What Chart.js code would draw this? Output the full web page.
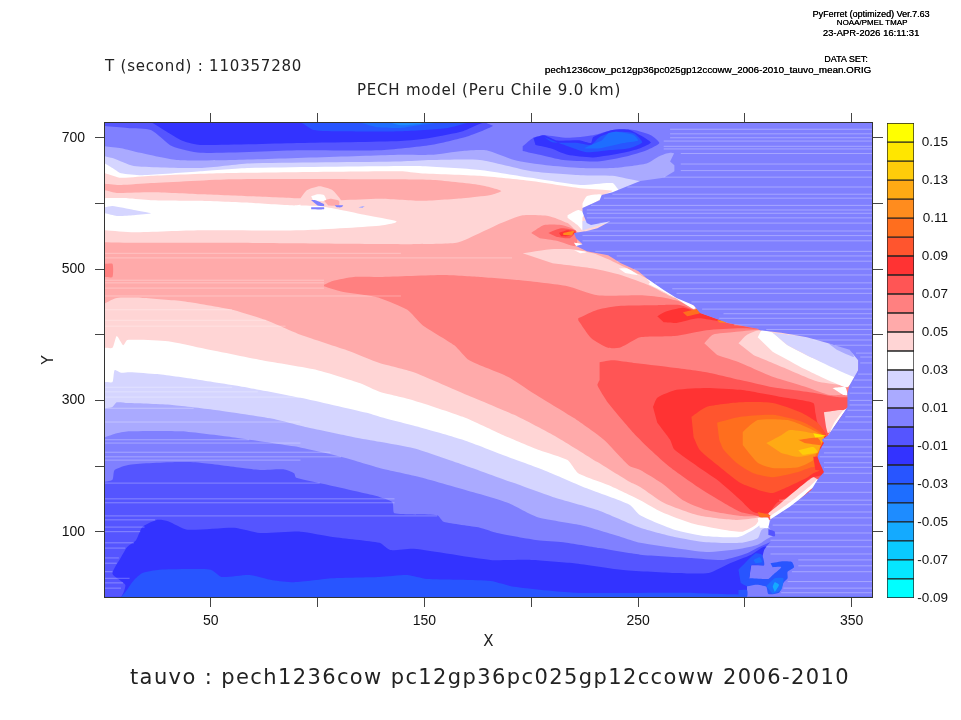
<!DOCTYPE html>
<html>
<head>
<meta charset="utf-8">
<title>tauvo</title>
<script src="https://cdn.jsdelivr.net/npm/chart.js@4"></script>
<style>
    html, body { margin: 0; padding: 0; background: #fff; overflow: hidden; }
    #plot { position: relative; width: 961px; height: 720px; }
    canvas { position: absolute; }
    .txt { position: absolute; white-space: pre; color: #222; font-family: "DejaVu Sans", sans-serif; line-height: 1; }
    .head { font-family: "Liberation Sans", sans-serif; font-size: 9px; color: #000; transform: translateX(-50%); text-shadow: 0.2px 0 0 #000; }
</style>
</head>
<body>
<div id="plot">
    <canvas id="field" width="961" height="720" style="left:0;top:0"></canvas>
    <canvas id="bar" width="81" height="509" style="left:880px;top:106px"></canvas>
    <div class="txt head" style="left:871px;top:10px">PyFerret (optimized) Ver.7.63</div>
    <div class="txt head" style="left:872px;top:19px;font-size:8px">NOAA/PMEL TMAP</div>
    <div class="txt head" style="left:871px;top:28px;font-size:9.5px">23-APR-2026 16:11:31</div>
    <div class="txt head" style="left:846px;top:55px">DATA SET:</div>
    <div class="txt head" style="left:708px;top:65px;font-size:9.8px">pech1236cow_pc12gp36pc025gp12ccoww_2006-2010_tauvo_mean.ORIG</div>
    <div class="txt" style="left:105px;top:59px;font-size:15px;letter-spacing:0.8px">T (second) : 110357280</div>
    <div class="txt" style="left:357px;top:83px;font-size:15px;letter-spacing:0.78px">PECH model (Peru Chile 9.0 km)</div>
    <div class="txt" style="left:130px;top:667px;font-size:21px;letter-spacing:1.39px">tauvo : pech1236cow pc12gp36pc025gp12ccoww 2006-2010</div>
</div>
<script>
// Contour levels and colour key (lower bound of each box)
const levels = [-0.09, -0.08, -0.07, -0.06, -0.05, -0.04, -0.03, -0.02, -0.01, 0.00, 0.01, 0.02, 0.03,
    0.04, 0.05, 0.06, 0.07, 0.08, 0.09, 0.10, 0.11, 0.12, 0.13, 0.14, 0.15];
const levelColors = ['#00ffff', '#05e6ff', '#0acaff', '#14aaff', '#1e8cff', '#1e6eff', '#2855ff', '#3333ff', '#5555ff',
    '#8080ff', '#aaaaff', '#d5d5ff', '#ffffff', '#ffd5d5', '#ffaaaa', '#ff8080', '#ff5555', '#ff3333',
    '#ff552e', '#ff6e1e', '#ff8c1e', '#ffaa14', '#ffcc0a', '#ffe600', '#ffff00'];
const barTicks = [-0.09, -0.07, -0.05, -0.03, -0.01, 0.01, 0.03, 0.05, 0.07, 0.09, 0.11, 0.13, 0.15];

const xTicks = [50, 100, 150, 200, 250, 300, 350];
const xTickLabels = ['50', '', '150', '', '250', '', '350'];
const yTicks = [100, 200, 300, 400, 500, 600, 700];
const yTickLabels = ['100', '', '300', '', '500', '', '700'];
const xMin = 0.5, xMax = 359.5, yMin = 0.5, yMax = 722.5;

// Contour edges, [X, Y], west to east
const southM02 = [[0.5,1],[8,1],[14,26],[18,37],[26,42],[50,42],[55,31],[68,34],[79,26],[89,23],[107,29],[129,31],[142,34],[151,28],[181,25],[192,16],[220,7],[270,7],[300,4]];
const northM02 = [[0.5,723],[92,723],[98,712],[111,710],[139,710],[161,715],[171,723]];
const southM01 = [[0.5,1],[8,1],[10,19],[4,36],[8,61],[11,77],[15,87],[18,107],[25,118],[30,116],[39,103],[61,106],[73,98],[92,100],[107,92],[129,83],[134,72],[145,74],[181,57],[200,57],[220,52],[242,42],[267,37],[283,37],[293,52],[303,65],[309,77],[321,77]];
const northM01 = [[0.5,723],[22,723],[28,712],[37,695],[45,689],[92,692],[139,695],[153,700],[168,710],[178,723]];
const southZero = [[0.5,176],[4,179],[5,194],[12,202],[34,206],[45,205],[65,197],[73,194],[84,195],[89,189],[90,182],[105,171],[120,160],[129,153],[135,145],[136,128],[156,125],[159,115],[176,106],[184,98],[203,87],[215,84],[232,75],[251,65],[275,60],[290,57],[301,67],[307,77],[321,95]];
const northZero = [[0.5,718],[11,715],[22,712],[32,687],[45,677],[92,681],[129,681],[153,689],[170,702],[182,718],[179,723]];
const southP01 = [[0.5,244],[6,250],[12,253],[36,253],[60,244],[89,230],[111,214],[129,197],[148,183],[173,160],[189,144],[203,122],[223,110],[242,92],[251,83],[267,75],[282,69],[298,74],[306,80],[311,90],[321,103]];
const northP01 = [[0.5,687],[8,684],[17,677],[34,666],[60,666],[139,674],[153,674],[168,680],[179,681],[192,666],[207,658],[223,654],[238,654],[254,661],[260,672],[265,677],[270,674]];
const southP02 = [[0.5,288],[4,290],[6,297],[11,296],[32,293],[53,285],[79,272],[95,259],[117,244],[129,237],[145,227],[168,202],[192,174],[210,153],[231,133],[251,106],[267,92],[282,84],[298,83],[306,90],[308,103],[321,118]];
const northP02 = [[0.5,672],[4,669],[14,657],[45,654],[68,661],[139,664],[153,666],[176,666],[200,649],[223,643],[238,642],[251,634],[270,634]];
const southP03 = [[0.5,328],[4,328],[5,346],[8,342],[12,343],[25,340],[45,331],[68,319],[92,304],[123,281],[129,275],[149,258],[168,240],[189,214],[208,191],[226,166],[246,141],[251,125],[267,103],[282,93],[297,92],[304,103],[307,110],[310,121],[321,133]];
const northP03 = [[0.5,661],[4,654],[8,646],[18,643],[45,649],[68,654],[139,657],[148,657],[176,651],[200,639],[223,628],[238,631],[241,620],[244,611]];
const southP04 = [[0.5,380],[4,380],[6,398],[9,384],[11,392],[30,390],[45,380],[74,361],[100,346],[120,326],[129,313],[145,300],[168,275],[187,247],[204,224],[217,209],[222,189],[236,171],[251,148],[261,130],[275,113],[290,103],[299,100],[305,110],[307,118],[321,133]];
const northP04 = [[0.5,646],[8,639],[22,642],[54,646],[139,649],[148,646],[176,642],[200,634],[223,623],[236,620],[238,619],[234,613],[232,605]];
const southP05 = [[0.5,448],[6,456],[18,456],[37,451],[60,438],[76,422],[92,400],[115,375],[129,357],[145,343],[168,311],[192,278],[212,244],[231,206],[246,176],[251,168],[262,144],[278,125],[295,118],[305,121],[310,125],[321,133]];
const northP05 = [[0.5,541],[14,540],[60,540],[139,538],[165,540],[176,555],[186,570],[196,582],[208,581],[217,570],[221,558],[228,544]];
const southP06 = [[103,474],[111,466],[123,460],[129,456],[142,438],[149,415],[164,384],[171,361],[189,336],[201,311],[220,273],[234,240],[246,200],[251,194],[261,174],[271,148],[282,133],[298,124],[309,124],[321,124]];
const northP06 = [[103,476],[107,482],[117,488],[129,488],[159,491],[176,488],[195,483],[217,474],[231,460],[251,460],[261,457],[270,450],[278,435],[292,418]];

// Closed contour patches, [X, Y]
const whiteLens = [[0.5,608],[11,608],[22,605],[45,604],[68,601],[89,597],[95,599],[111,590],[123,582],[137,573],[136,570],[129,566],[92,559],[45,559],[14,556],[0.5,559]];
const lensIsle = [[0.5,594],[4,596],[14,590],[22,585],[14,582],[6,581],[0.5,585]];
const northLens = [[0.5,630],[8,628],[22,631],[60,637],[129,637],[153,636],[176,628],[186,619],[181,613],[168,608],[148,604],[129,607],[111,605],[90,608],[68,611],[45,614],[22,617],[6,616],[0.5,620]];
const ringPale = [[92,608],[95,620],[101,626],[107,620],[111,605],[112,597],[92,597]];
const ringWhite = [[97,611],[100,614],[103,613],[104,604],[98,604]];
const ringPink = [[103,604],[106,607],[110,604],[110,597],[105,597]];
const ringBlueA = [[97,605],[99,605],[103,599],[103,596],[100,597]];
const ringBlueB = [[108,597],[112,597],[111,594],[109,594]];
const ringBlueC = [[97,594],[103,594],[103,591],[97,591]];
const ringBlueD = [[119,594],[122,596],[121,593]];
const westEdge = [[0.5,508],[4,508],[4,488],[0.5,488]];
const capePale = [[196,524],[208,530],[220,530],[229,524],[238,512],[254,486],[264,466],[267,456],[256,474],[242,491],[229,501],[210,509]];
const capeA = [[200,555],[206,567],[214,567],[221,558],[221,535],[212,543],[204,547]];
const capeB = [[208,555],[214,562],[221,558],[218,547],[212,549]];
const capeC = [[213,555],[217,559],[221,556],[217,550],[214,550]];
const capeD = [[215,555],[220,558],[219,552],[215,552]];
const bayPink = [[281,387],[285,400],[295,404],[307,407],[321,400],[350,377],[346,311],[340,308],[329,320],[313,336],[298,357],[287,369]];
const bayPale = [[297,387],[301,400],[307,407],[352,392],[351,326],[335,328],[321,346],[304,369]];
const bayWhite = [[306,396],[308,407],[313,403],[320,384],[332,364],[351,336],[348,320],[341,328],[326,351],[313,374]];
const bayLilac = [[313,403],[329,396],[339,387],[349,377],[353,361],[353,346],[351,336],[332,364],[320,384]];
const bayBlue = [[339,387],[349,378],[351,366],[343,377]];
const northCore07 = [[222,425],[231,438],[242,444],[259,445],[270,445],[278,435],[292,418],[306,409],[298,410],[282,407],[267,398],[251,396],[242,381],[236,380],[228,395],[222,422]];
const northCore08 = [[259,428],[262,434],[271,441],[279,433],[291,419],[278,425],[268,418],[262,419]];
const northCore10 = [[271,434],[278,439],[279,433],[273,428]];
const northCore11 = [[287,422],[290,421],[291,418],[288,419]];
const core07 = [[232,358],[238,361],[248,357],[264,351],[282,343],[298,331],[313,320],[329,313],[343,305],[354,300],[354,118],[311,118],[305,125],[298,130],[290,144],[278,168],[265,198],[256,224],[248,250],[236,296],[231,323],[232,331]];
const core08 = [[257,290],[259,304],[268,316],[282,319],[298,316],[317,305],[332,296],[333,281],[334,266],[338,247],[340,194],[336,186],[331,182],[327,171],[320,153],[315,144],[311,128],[304,130],[298,148],[287,179],[278,199],[267,225],[265,240],[259,266]];
const core09 = [[275,275],[282,290],[298,297],[313,296],[326,282],[334,266],[338,247],[334,240],[335,194],[332,189],[329,182],[320,168],[313,159],[306,164],[298,174],[290,194],[279,224],[276,244]];
const core10 = [[287,266],[298,275],[313,278],[327,267],[337,247],[335,232],[336,202],[331,198],[325,191],[313,183],[304,189],[296,205],[290,225],[288,240]];
const core11 = [[299,252],[306,270],[320,270],[329,259],[337,244],[334,224],[332,209],[325,198],[313,197],[306,205],[299,232]];
const core12 = [[310,235],[317,247],[321,255],[332,250],[337,244],[335,227],[334,220],[325,214],[317,220]];
const core13 = [[325,224],[332,229],[334,221],[327,217]];
const coreTip = [[332,250],[338,246],[333,243]];
const fingerA = [[325,240],[334,243],[336,232],[328,235]];
const fingerB = [[332,214],[335,214],[336,194],[333,194]];
const fringePale = [[311,128],[317,144],[327,171],[332,183],[334,179],[329,163],[320,138],[312,119]];
const fringeWhite = [[312,124],[320,142],[330,168],[334,180],[335,176],[330,162],[321,136],[312,118]];
const shelfPale = [[337,282],[346,285],[343,267],[339,250],[338,259]];
const shelfWhite = [[346,285],[348,288],[345,275],[339,246],[342,267]];
const shelfTop = [[341,319],[347,320],[348,308],[346,308]];
const tipOrange = [[306,130],[312,125],[311,122],[307,122]];
const tipWhite = [[306,121],[311,121],[311,106],[307,106]];
const coastA = [[224,600],[226,611],[232,614],[234,611],[229,600],[224,593]];
const coastB = [[217,582],[222,590],[225,585],[224,578],[224,559],[222,566],[217,578]];
const coastC = [[224,573],[229,575],[237,573],[231,566],[224,559]];
const coastD = [[241,501],[245,501],[250,491],[244,494]];
const coastE = [[254,486],[260,474],[268,456],[262,466],[256,478]];
const coastF = [[220,540],[224,538],[224,534],[221,535]];
const coastG = [[220,529],[226,526],[223,524]];
const coastH = [[256,482],[267,463],[277,442],[276,439],[266,459],[255,477]];

// Land mask, drawn over the ocean contours
const landEdge = [[359.5,1],[359.5,723],[263,723],[265,681],[267,677],[265,664],[267,658],[267,649],[262,639],[251,634],[238,617],[233,613],[232,605],[224,593],[224,587],[225,578],[226,570],[228,567],[237,573],[231,562],[226,558],[220,555],[221,547],[224,538],[221,535],[226,527],[236,521],[242,509],[250,497],[254,486],[262,468],[268,456],[276,445],[279,433],[292,418],[306,409],[307,407],[317,403],[329,396],[339,387],[349,377],[353,361],[353,346],[349,323],[348,311],[348,290],[345,275],[339,247],[336,240],[337,235],[335,224],[334,214],[335,205],[337,191],[334,179],[331,163],[321,138],[312,119],[311,107],[313,100],[314,92],[310,77],[309,72],[308,60],[309,49],[303,49],[302,29],[298,23],[301,22],[301,1]];

// Patches that sit on the land colour
const topBlue01 = [[196,687],[201,700],[206,704],[217,700],[229,704],[238,712],[248,712],[256,704],[260,692],[254,681],[245,672],[231,664],[215,666],[204,674],[196,680]];
const topBlue02 = [[201,700],[206,704],[212,696],[223,696],[228,692],[229,701],[238,712],[246,712],[256,693],[251,684],[243,677],[229,670],[217,674],[209,684],[202,689]];
const topBlue03 = [[206,701],[210,693],[222,692],[228,689],[232,701],[239,709],[248,707],[252,693],[246,684],[236,681],[226,678],[218,686],[212,693]];
const topBlue04 = [[236,707],[240,709],[248,704],[250,696],[243,692],[232,684],[225,684],[228,689],[233,696]];
const topEdge04 = [[120,723],[128,716],[139,715],[145,718],[157,723]];
const topEdge05 = [[134,723],[139,719],[148,721],[150,723]];
const southPatch03 = [[312,52],[318,55],[322,54],[323,46],[320,39],[320,29],[318,22],[316,7],[311,5],[310,16],[305,19],[301,17],[298,23],[302,29],[311,28],[313,34],[317,46],[313,46]];
const southPatch04 = [[310,17],[314,29],[318,29],[317,11],[313,5]];
const southPatch06 = [[313,16],[314,23],[316,19],[314,8]];
const capePatch03 = [[297,42],[305,67],[308,65],[309,49],[303,49],[302,29],[298,23]];
const capePatch04 = [[304,57],[307,61],[308,54],[305,52]];
const floorPatch03 = [[297,11],[301,11],[301,1],[297,1]];
const dotPatch01 = [[311,104],[314,100],[314,93],[311,95]];

// Faint row artefacts in the field
const stripeY = [524,517,483,479,471,459,438,422,413,320,313,305,288,267,240,235,221,214,209,174,150,144,124,118,107,100,83,75,60,52,39,29,22,14,
    713,706,700,695,687,683,676,660,650,640,625,614,608,597,590,585,578,570,558,551,543,527,520,512,500,491,479,470,463,450,439,432,425,415,408,400,392,384,372,366,357,340,331,320,311,300,293,285,275,267,255,240,229,220,214,205,198,189,175,160,148,141,130,121,110,98,87,77,66,57,48,39,24,14,7];
const stripeFrom = [0.5,0.5,0.5,0.5,0.5,0.5,0.5,0.5,0.5,0.5,0.5,0.5,0.5,0.5,0.5,0.5,0.5,0.5,0.5,0.5,0.5,0.5,0.5,0.5,0.5,0.5,0.5,0.5,0.5,0.5,0.5,0.5,0.5,0.5,
    265,265,265,262,262,262,270,270,270,262,245,238,234,228,226,226,226,232,225,224,224,230,240,240,248,250,258,266,268,275,280,290,288,295,310,320,332,342,352,354,354,353,351,350,349,349,349,348,347,344,340,337,336,337,335,337,337,337,333,330,316,322,318,312,313,314,312,310,312,325,325,322,320,318,317];
const stripeTo = [139,191,103,103,103,139,60,76,85,60,72,92,42,92,68,92,106,111,92,101,136,136,156,24,19,17,14,10,7,6,4,12,9,8];

// Close a band between its south and north contour through the land mask
function band(south, north) {
    return [...south, [xMax, south[south.length - 1][1]], [xMax, north[north.length - 1][1]], ...north.slice().reverse()];
}

function colorOf(level) {
    return levelColors[Math.round((level + 0.09) * 100)];
}

// Painted in order, lowest level first
const layers = [
    [-0.03, [[xMin, yMin], [xMax, yMin], [xMax, 723], [xMin, 723]]],
    [-0.04, topEdge04], [-0.05, topEdge05],
    [-0.02, band(southM02, northM02)],
    [-0.01, band(southM01, northM01)],
    [0.00, band(southZero, northZero)],
    [0.01, band(southP01, northP01)],
    [0.02, band(southP02, northP02)],
    [0.03, band(southP03, northP03)],
    [0.04, band(southP04, northP04)],
    [0.03, whiteLens], [0.02, lensIsle], [0.05, northLens],
    [0.04, ringPale], [0.03, ringWhite], [0.05, ringPink],
    [0.00, ringBlueA], [0.00, ringBlueB], [0.00, ringBlueC], [0.01, ringBlueD],
    [0.05, band(southP05, northP05)],
    [0.06, westEdge], [0.04, capePale],
    [0.06, capeA], [0.07, capeB], [0.08, capeC], [0.11, capeD],
    [0.06, band(southP06, northP06)],
    [0.05, bayPink], [0.04, bayPale], [0.03, bayWhite], [0.02, bayLilac], [0.01, bayBlue],
    [0.07, northCore07], [0.08, northCore08], [0.10, northCore10], [0.11, northCore11],
    [0.07, core07], [0.08, core08], [0.09, core09], [0.10, core10], [0.11, core11], [0.12, core12],
    [0.13, core13], [0.14, coreTip], [0.10, fingerA], [0.08, fingerB],
    [0.04, fringePale], [0.03, fringeWhite], [0.04, shelfPale], [0.03, shelfWhite], [0.03, shelfTop],
    [0.10, tipOrange], [0.03, tipWhite],
    [0.03, coastA], [0.03, coastB], [0.02, coastC], [0.03, coastD], [0.03, coastE], [0.03, coastF], [0.03, coastG], [0.03, coastH],
    [0.00, landEdge],
    [-0.01, topBlue01], [-0.02, topBlue02], [-0.03, topBlue03], [-0.04, topBlue04],
    [-0.03, southPatch03], [-0.04, southPatch04], [-0.06, southPatch06],
    [-0.03, capePatch03], [-0.04, capePatch04], [-0.03, floorPatch03], [-0.01, dotPatch01]
];

function initField() {
    const datasets = layers.map(([level, pts], i) => ({
        data: pts.map(p => ({ x: p[0], y: p[1] })),
        showLine: true,
        fill: 'shape',
        backgroundColor: colorOf(level),
        borderWidth: 0,
        pointRadius: 0,
        tension: pts === landEdge || i === 0 ? 0 : 0.2,
        order: -i
    }));

    // Row artefacts, one broken line
    const stripes = [];
    stripeY.forEach((y, i) => {
        const to = i < stripeTo.length ? stripeTo[i] : xMax;
        stripes.push({ x: stripeFrom[i], y: y }, { x: to, y: y }, { x: NaN, y: NaN });
    });
    datasets.push({
        data: stripes,
        showLine: true,
        fill: false,
        borderColor: 'rgba(255, 255, 255, 0.3)',
        borderWidth: 1,
        pointRadius: 0,
        order: -layers.length
    });

    const tickGrid = { drawOnChartArea: false, drawTicks: true, tickLength: 10, tickColor: '#444', lineWidth: 1 };
    const frame = { display: true, color: '#333', width: 2 };
    const setTicks = values => scale => { scale.ticks = values.map(v => ({ value: v })); };

    new Chart(document.getElementById('field'), {
        type: 'scatter',
        data: { datasets },
        options: {
            responsive: false,
            animation: false,
            events: [],
            devicePixelRatio: 1,
            layout: { padding: { top: 113, right: 78, bottom: 0, left: 0 } },
            plugins: { legend: { display: false }, tooltip: { enabled: false } },
            scales: {
                x: {
                    type: 'linear', min: xMin, max: xMax, position: 'bottom',
                    grid: tickGrid, border: frame,
                    afterBuildTicks: setTicks(xTicks),
                    afterFit: s => { s.height = 123; },
                    title: { display: true, text: 'X', color: '#222', font: { family: 'DejaVu Sans', size: 15 }, padding: { top: 0, bottom: 69 } },
                    ticks: {
                        autoSkip: false, maxRotation: 0, padding: 6, color: '#111',
                        font: { family: 'Liberation Sans', size: 14 },
                        callback: (v, i) => xTickLabels[i]
                    }
                },
                x2: {
                    type: 'linear', axis: 'x', min: xMin, max: xMax, position: 'top',
                    grid: tickGrid, border: frame,
                    afterBuildTicks: setTicks(xTicks),
                    afterFit: s => { s.height = 10; },
                    ticks: { display: false }
                },
                y: {
                    type: 'linear', min: yMin, max: yMax, position: 'left',
                    grid: tickGrid, border: frame,
                    afterBuildTicks: setTicks(yTicks),
                    afterFit: s => { s.width = 105; },
                    title: { display: true, text: 'Y', color: '#222', font: { family: 'DejaVu Sans', size: 15 }, padding: { top: 40, bottom: 0 } },
                    ticks: {
                        autoSkip: false, padding: 10, color: '#111',
                        font: { family: 'Liberation Sans', size: 14 },
                        callback: (v, i) => yTickLabels[i]
                    }
                },
                y2: {
                    type: 'linear', axis: 'y', min: yMin, max: yMax, position: 'right',
                    grid: Object.assign({}, tickGrid, { tickLength: 11 }), border: frame,
                    afterBuildTicks: setTicks(yTicks),
                    afterFit: s => { s.width = 11; },
                    ticks: { display: false }
                }
            }
        }
    });
}

// Colour key as floating bars
function initKey() {
    const datasets = levels.map((lo, i) => ({
        data: [[lo, lo + 0.01]],
        backgroundColor: levelColors[i],
        borderColor: '#222',
        borderWidth: 1,
        borderSkipped: false,
        barPercentage: 1,
        categoryPercentage: 1,
        grouped: false
    }));

    new Chart(document.getElementById('bar'), {
        type: 'bar',
        data: { labels: [''], datasets },
        options: {
            responsive: false,
            animation: false,
            events: [],
            devicePixelRatio: 1,
            layout: { padding: { left: 7, top: 3, bottom: 2, right: 13 } },
            plugins: { legend: { display: false }, tooltip: { enabled: false } },
            scales: {
                x: { display: false, grid: { display: false } },
                y: {
                    position: 'right', min: -0.09, max: 0.16,
                    grid: { display: false },
                    border: { display: false },
                    afterBuildTicks: scale => { scale.ticks = barTicks.map(v => ({ value: v })); },
                    afterFit: s => { s.width = 34; },
                    ticks: {
                        autoSkip: false, padding: 9, color: '#111', crossAlign: 'far',
                        font: { family: 'Liberation Sans', size: 13.5 },
                        callback: v => v.toFixed(2)
                    }
                }
            }
        }
    });
}

initField();
initKey();
</script>
</body>
</html>
